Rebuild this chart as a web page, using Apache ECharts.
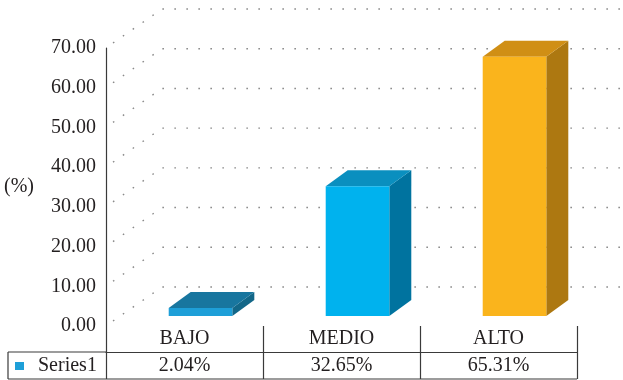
<!DOCTYPE html>
<html>
<head>
<meta charset="utf-8">
<script src="https://cdn.jsdelivr.net/npm/echarts@6/dist/echarts.min.js"></script>
<style>
html,body{margin:0;padding:0;background:#fff;}
#c{width:623px;height:380px;}
</style>
</head>
<body>
<div id="c"></div>
<script>
// ---- data ----
var categories = ['BAJO', 'MEDIO', 'ALTO'];
var values = [2.04, 32.65, 65.31];
var valueLabels = ['2.04%', '32.65%', '65.31%'];
var seriesName = 'Series1';
var yTicks = [0, 10, 20, 30, 40, 50, 60, 70];
var yAxisTitle = '(%)';

// ---- styles ----
var FONT = '"Liberation Serif", "DejaVu Serif", serif';
var FS = 20;
var TEXT = '#231f20';
var LINE = '#3a3a3a';
var faceColors = [
  { front: '#1e9fd8', top: '#18769f', side: '#136788' },
  { front: '#00b2ee', top: '#0a8fbf', side: '#00739f' },
  { front: '#fab41c', top: '#d08f15', side: '#ad7811' }
];
var BAR_OFF = [16, -10];   // bar front face offset from axis plane
var DEPTH = [22, -16];     // bar depth projection
var WALL_FRONT = [7, -5];
var WALL_BACK = [56, -39];

var chart = echarts.init(document.getElementById('c'), null, { renderer: 'canvas' });

var barData = values.map(function (v, i) { return [i, v]; });
var tickData = yTicks.map(function (t) { return [0, t]; });

var option = {
  animation: false,
  backgroundColor: '#fff',
  grid: { left: 106, right: 46, top: 48, bottom: 54, containLabel: false },
  xAxis: [
    {
      type: 'category',
      data: categories,
      position: 'bottom',
      axisLine: { show: false },
      axisTick: { show: true, length: 26, lineStyle: { color: LINE, width: 1.2 } },
      axisLabel: { color: TEXT, fontFamily: FONT, fontSize: FS, margin: 3 },
      splitLine: { show: false }
    },
    {
      type: 'category',
      data: categories,
      position: 'bottom',
      offset: 26,
      axisLine: { show: true, lineStyle: { color: LINE, width: 1.2 } },
      axisTick: { show: true, length: 27, lineStyle: { color: LINE, width: 1.2 } },
      axisLabel: {
        color: TEXT, fontFamily: FONT, fontSize: FS, margin: 4,
        formatter: function (val, idx) { return valueLabels[idx]; }
      },
      splitLine: { show: false }
    }
  ],
  yAxis: {
    type: 'value',
    min: 0, max: 70, interval: 10,
    name: yAxisTitle,
    nameLocation: 'middle',
    nameRotate: 0,
    nameGap: 72,
    nameTextStyle: { color: TEXT, fontFamily: FONT, fontSize: FS },
    axisLine: { show: true, lineStyle: { color: LINE, width: 1.2 } },
    axisTick: { show: false },
    axisLabel: {
      color: TEXT, fontFamily: FONT, fontSize: FS, margin: 10,
      formatter: function (v) { return v.toFixed(2); }
    },
    splitLine: { show: false }
  },
  series: [
    {
      type: 'custom',
      name: 'grid3d',
      silent: true,
      xAxisIndex: 0,
      data: tickData,
      z: 1,
      renderItem: function (params, api) {
        var cs = params.coordSys;
        var p = api.coord([0, api.value(1)]);
        var y = p[1];
        var x = cs.x;
        return {
          type: 'polyline',
          shape: {
            points: [
              [x + WALL_FRONT[0], y + WALL_FRONT[1]],
              [x + WALL_BACK[0], y + WALL_BACK[1]],
              [x + cs.width + WALL_BACK[0], y + WALL_BACK[1]]
            ]
          },
          style: { stroke: '#8a8a8a', lineWidth: 1.4, lineDash: [1.6, 10.4], fill: null }
        };
      }
    },
    {
      type: 'custom',
      name: seriesName,
      silent: true,
      xAxisIndex: 0,
      data: barData,
      z: 3,
      renderItem: function (params, api) {
        var i = api.value(0);
        var base = api.coord([i, 0]);
        var topP = api.coord([i, api.value(1)]);
        var bw = api.size([1, 0])[0] * 0.405;
        var x0 = base[0] - bw / 2 + BAR_OFF[0];
        var x1 = x0 + bw;
        var yb = base[1] + BAR_OFF[1];
        var yt = topP[1] + BAR_OFF[1];
        var c = faceColors[params.dataIndex];
        var dx = DEPTH[0], dy = DEPTH[1];
        return {
          type: 'group',
          children: [
            { type: 'polygon', shape: { points: [[x1, yt], [x1 + dx, yt + dy], [x1 + dx, yb + dy], [x1, yb]] },
              style: { fill: c.side } },
            { type: 'polygon', shape: { points: [[x0, yt], [x1, yt], [x1 + dx, yt + dy], [x0 + dx, yt + dy]] },
              style: { fill: c.top } },
            { type: 'rect', shape: { x: x0, y: yt, width: bw, height: yb - yt },
              style: { fill: c.front } }
          ]
        };
      }
    }
  ],
  graphic: [
    { type: 'line', shape: { x1: 8, y1: 352, x2: 106, y2: 352 }, style: { stroke: LINE, lineWidth: 1.2 } },
    { type: 'line', shape: { x1: 8, y1: 379, x2: 577, y2: 379 }, style: { stroke: LINE, lineWidth: 1.2 } },
    { type: 'line', shape: { x1: 8, y1: 352, x2: 8, y2: 379 }, style: { stroke: LINE, lineWidth: 1.2 } },
    { type: 'rect', shape: { x: 15, y: 362, width: 9, height: 8 }, style: { fill: faceColors[0].front } },
    { type: 'text', x: 38, y: 366, style: { text: seriesName, fill: TEXT, font: FS + 'px ' + FONT, textVerticalAlign: 'middle' } }
  ]
};
chart.setOption(option);
</script>
</body>
</html>
